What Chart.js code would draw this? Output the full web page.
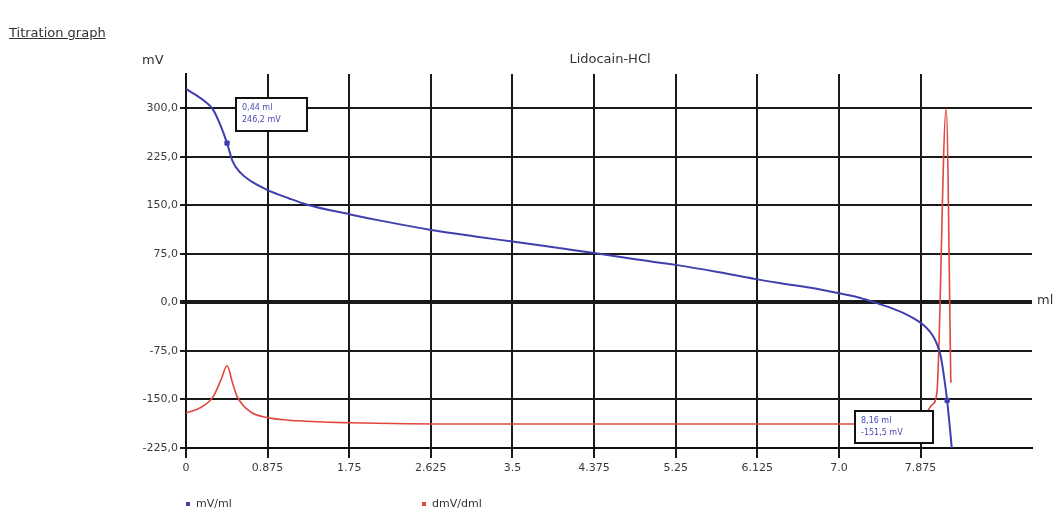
<!DOCTYPE html>
<html>
<head>
<meta charset="utf-8">
<script src="https://cdn.jsdelivr.net/npm/chart.js@4.4.1/dist/chart.umd.min.js"></script>
<style>
  html, body { margin: 0; padding: 0; background: #fff; }
  #wrap { position: relative; width: 1060px; height: 511px; overflow: hidden; font-family: "DejaVu Sans", Verdana, sans-serif; color: #333; }
  #wrap canvas { position: absolute; left: 0; top: 0; }
  .lbl { position: absolute; white-space: nowrap; }
  #pageTitle { left: 9px; top: 25px; font-size: 13px; text-decoration: underline; }
  #yUnit { left: 142px; top: 52px; font-size: 13px; }
  #chartTitle { left: 0; width: 1220px; text-align: center; top: 51px; font-size: 13px; }
  #xUnit { left: 1037px; top: 292px; font-size: 13px; }
  .leg { top: 497px; font-size: 11px; }
  .leg i { display: inline-block; width: 4px; height: 4px; margin-right: 6px; vertical-align: middle; }
</style>
</head>
<body>
<div id="wrap">
  <canvas id="titration" width="1060" height="511"></canvas>
  <div class="lbl" id="pageTitle">Titration graph</div>
  <div class="lbl" id="yUnit">mV</div>
  <div class="lbl" id="chartTitle">Lidocain-HCl</div>
  <div class="lbl" id="xUnit">ml</div>
  <div class="lbl leg" style="left:186px"><i style="background:#3f3fae"></i>mV/ml</div>
  <div class="lbl leg" style="left:422px"><i style="background:#e0463e"></i>dmV/dml</div>
</div>
<script>
// volume (ml) and potential (mV)
const volX = [0, 0.1, 0.2, 0.29, 0.36, 0.44, 0.5, 0.58, 0.7, 0.87, 1.1, 1.3, 1.76, 2.1, 2.63, 3.1, 3.5, 4.0, 4.375, 4.8, 5.25, 5.7, 6.11, 6.5, 6.8, 7.0, 7.2, 7.36, 7.55, 7.7, 7.85, 7.93, 8.0, 8.05, 8.09, 8.12, 8.16, 8.21];
const mV = [330, 321, 311, 298, 277, 246.2, 218, 201, 187, 174, 161, 151, 136, 126, 112, 102, 94, 84, 76.5, 67, 58, 47, 36, 27, 20, 14, 8, 1, -8, -17, -29, -38, -50, -64, -82, -108, -151.5, -225];

// first derivative, drawn on the same axis
const derivX = [0, 0.15, 0.29, 0.38, 0.44, 0.5, 0.55, 0.69, 0.87, 1.2, 1.76, 3, 5, 7, 7.8, 7.93, 8.0, 8.05, 8.15, 8.2];
const dmV = [-171, -163, -146, -118, -98, -125, -146, -169, -178, -183, -186, -188, -188, -188, -186, -172, -158, -140, 300, -124];

// marked points (ml, mV) and their labels
const markX = [0.44, 8.16];
const markY = [246.2, -151.5];
const markText = [["0,44 ml", "246,2 mV"], ["8,16 ml", "-151,5 mV"]];

const xTicks = [0, 0.875, 1.75, 2.625, 3.5, 4.375, 5.25, 6.125, 7.0, 7.875];
const xTickLabels = ["0", "0.875", "1.75", "2.625", "3.5", "4.375", "5.25", "6.125", "7.0", "7.875"];
const yTicks = [-225, -150, -75, 0, 75, 150, 225, 300];
const yTickLabels = ["-225,0", "-150,0", "-75,0", "0,0", "75,0", "150,0", "225,0", "300,0"];

const toPts = (xs, ys) => xs.map((x, i) => ({ x: x, y: ys[i] }));

// label boxes next to the marked points
const markLabels = {
  id: 'markLabels',
  afterDatasetsDraw(chart) {
    const c = chart.ctx;
    const pts = chart.getDatasetMeta(2).data;
    const offs = [[9, -45, 71, 33], [-92, 11, 78, 32]];
    c.save();
    pts.forEach((p, i) => {
      const [dx, dy, w, h] = offs[i];
      const bx = Math.round(p.x + dx), by = Math.round(p.y + dy);
      c.fillStyle = '#fff';
      c.fillRect(bx, by, w, h);
      c.strokeStyle = '#111';
      c.lineWidth = 2;
      c.strokeRect(bx, by, w, h);
      c.fillStyle = '#4a4ab8';
      c.font = '8px "DejaVu Sans"';
      c.textBaseline = 'middle';
      c.fillText(markText[i][0], bx + 6, by + 10);
      c.fillText(markText[i][1], bx + 6, by + 22);
    });
    c.restore();
  }
};

const ctx = document.getElementById('titration').getContext('2d');

new Chart(ctx, {
  type: 'line',
  data: {
    datasets: [
      { label: 'mV/ml', data: toPts(volX, mV), borderColor: '#3f3fae', borderWidth: 2, pointRadius: 0, cubicInterpolationMode: 'monotone' },
      { label: 'dmV/dml', data: toPts(derivX, dmV), borderColor: '#e0463e', borderWidth: 1.6, pointRadius: 0, cubicInterpolationMode: 'monotone' },
      { label: 'marks', data: toPts(markX, markY), showLine: false, pointStyle: 'rect', pointRadius: 3, backgroundColor: '#3f3fae', borderColor: '#3f3fae' }
    ]
  },
  options: {
    responsive: false,
    animation: false,
    layout: { padding: { top: 74, right: 28, left: 0, bottom: 0 } },
    plugins: { legend: { display: false }, title: { display: false }, tooltip: { enabled: false } },
    scales: {
      x: {
        type: 'linear',
        min: 0,
        max: 9.07,
        afterBuildTicks: (axis) => { axis.ticks = xTicks.map(v => ({ value: v })); },
        afterFit: (axis) => { axis.height = 63; },
        ticks: {
          autoSkip: false,
          maxRotation: 0,
          padding: 4,
          color: '#3a3a3a',
          font: { family: 'DejaVu Sans', size: 11 },
          callback: (v, i) => xTickLabels[i]
        },
        grid: { color: '#1a1a1a', lineWidth: 2, tickLength: 10 },
        border: { display: true, color: '#111', width: 2 }
      },
      y: {
        type: 'linear',
        min: -225,
        max: 353,
        afterBuildTicks: (axis) => { axis.ticks = yTicks.map(v => ({ value: v })); },
        afterFit: (axis) => { axis.width = 186; },
        ticks: {
          padding: 2,
          color: '#3a3a3a',
          font: { family: 'DejaVu Sans', size: 11 },
          callback: (v, i) => yTickLabels[i]
        },
        grid: {
          color: '#1a1a1a',
          lineWidth: (c) => (c.tick && c.tick.value === 0 ? 4 : 2),
          tickLength: 6
        },
        border: { display: true, color: '#111', width: 2 }
      }
    }
  },
  plugins: [markLabels]
});
</script>
</body>
</html>
